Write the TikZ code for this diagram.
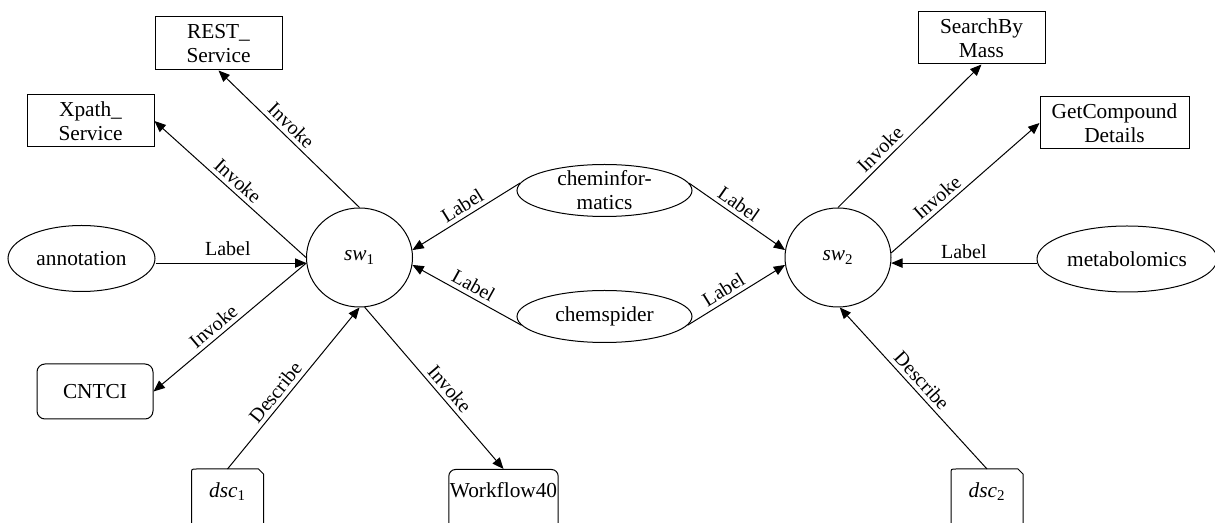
\documentclass[tikz,border=0pt]{standalone}
\usepackage{fontspec}
\setmainfont{Liberation Serif}
\usetikzlibrary{arrows.meta}
\usetikzlibrary{shapes.geometric}
\usetikzlibrary{calc}
\tikzset{every picture/.style={line width=0.75pt}}
\tikzset{
  svcbox/.style={draw, rectangle, align=center, inner sep=0.75pt, minimum width=95.25pt, minimum height=39pt},
  tagell/.style={draw, ellipse, align=center, inner sep=0pt, minimum height=39pt},
  swell/.style={draw, ellipse, inner sep=0pt, minimum width=79.5pt, minimum height=74.25pt},
  wfbox/.style={draw, rounded corners=5pt, inner sep=0.75pt, text height=20pt, text depth=25pt},
  dscbox/.style={inner sep=0.75pt, minimum width=53.25pt, text height=20pt, text depth=25pt},
  rel/.style={-{Triangle[length=8.5pt,width=7pt]}},
  rellbl/.style={sloped, above, inner sep=3pt, font=\fontsize{15}{18}\selectfont},
}

\begin{document}
\begin{tikzpicture}[x=0.75pt,y=-0.75pt,font=\fontsize{16}{18}\selectfont]
\useasboundingbox (0,0) rectangle (1215,523);

%Shape: Ellipse sw1
\draw (359.5,257.5) node [swell] (sw1) {\textit{sw}\textsubscript{1}};
%Shape: Ellipse sw2
\draw (838,257.5) node [swell] (sw2) {\textit{sw}\textsubscript{2}};

%Shape: Rectangle
\draw (218.5,43.5) node [svcbox, minimum height=39.75pt] (rest) {REST\_\\Service};
%Shape: Rectangle
\draw (90.5,121) node [svcbox] (xpath) {Xpath\_\\Service};
%Shape: Rectangle
\draw (981.5,38) node [svcbox] (sbm) {SearchBy\\Mass};
%Shape: Rectangle
\draw (1114.5,123) node [svcbox, minimum width=111.75pt] (gcd) {GetCompound\\Details};
%Shape: Rounded Rect
\draw (95,391.5) node [draw, rounded corners=6pt, minimum width=87pt, minimum height=41.25pt] (cntci) {CNTCI};
%Shape: Rounded Rect
\draw (503.5,469) node [wfbox, anchor=north] (wf40) {Workflow40};

%Shape: Ellipse
\draw (81.5,258.5) node [tagell, minimum width=110.25pt, minimum height=49.5pt] (annot) {annotation};
%Shape: Ellipse
\draw (1127,259) node [tagell, minimum width=135pt, minimum height=49.5pt] (metab) {metabolomics};
%Shape: Ellipse
\draw (604.5,190.5) node [tagell, minimum width=131.25pt, inner ysep=-1pt] (chemi) {cheminfor-\\matics};
%Shape: Ellipse
\draw (604.5,316.5) node [tagell, minimum width=131.25pt] (chems) {chemspider};

% Text Node
\draw (227.5,469) node [dscbox, anchor=north] (dsc1) {\textit{dsc}\textsubscript{1}};
\draw (dsc1.south west) -- ($(dsc1.north west)+(0,5)$) .. controls (dsc1.north west) .. ($(dsc1.north west)+(5,0)$) -- ($(dsc1.north east)+(-5,0)$) -- ($(dsc1.north east)+(0,5)$) -- (dsc1.south east);
% Text Node
\draw (987,469) node [dscbox, anchor=north] (dsc2) {\textit{dsc}\textsubscript{2}};
\draw (dsc2.south west) -- ($(dsc2.north west)+(0,5)$) .. controls (dsc2.north west) .. ($(dsc2.north west)+(5,0)$) -- ($(dsc2.north east)+(-5,0)$) -- ($(dsc2.north east)+(0,5)$) -- (dsc2.south east);

% Connectors of sw1
\draw [rel] (sw1.north) -- (rest.south) node [rellbl, pos=0.54] {Invoke};
\draw [rel] (sw1.west) -- (xpath.east) node [rellbl, pos=0.5] {Invoke};
\draw [rel] (annot.east |- sw1.-174) -- (sw1.-174) node [rellbl, pos=0.48, inner sep=5pt] {Label};
\draw [rel] (sw1.-174) -- (cntci.east) node [rellbl, pos=0.56] {Invoke};
\draw [rel] (dsc1.north) -- (sw1.south) node [rellbl, pos=0.43] {Describe};
\draw [rel] (sw1.-84) -- (wf40.north) node [rellbl, pos=0.55] {Invoke};
\draw [rel] (chemi.175) -- (sw1.8) node [rellbl, pos=0.48] {Label};
\draw [rel] (chems.186) -- (sw1.-8) node [rellbl, pos=0.49] {Label};

% Connectors of sw2
\draw [rel] (chemi.5) -- (sw2.172) node [rellbl, pos=0.45] {Label};
\draw [rel] (chems.-6) -- (sw2.-172) node [rellbl, pos=0.43] {Label};
\draw [rel] (sw2.north) -- (sbm.south) node [rellbl, pos=0.35] {Invoke};
\draw [rel] (sw2.5) -- (gcd.west) node [rellbl, pos=0.36] {Invoke};
\draw [rel] (metab.west |- sw2.-6) -- (sw2.-6) node [rellbl, pos=0.5] {Label};
\draw [rel] (dsc2.north) -- (sw2.-88) node [rellbl, pos=0.5] {Describe};

\end{tikzpicture}
\end{document}
